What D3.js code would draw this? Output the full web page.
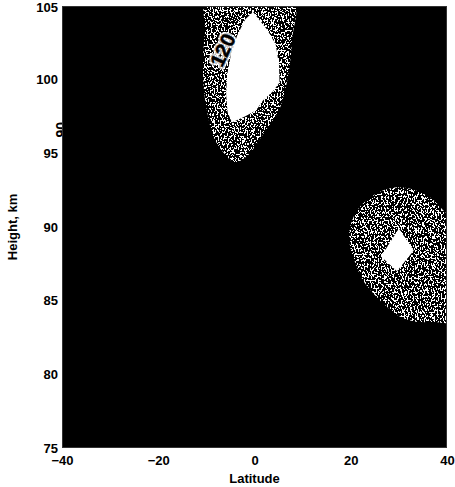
<!DOCTYPE html>
<html>
<head>
<meta charset="utf-8">
<script src="https://cdn.jsdelivr.net/npm/d3@7"></script>
<style>
  html, body { margin: 0; padding: 0; background: #fff; }
  svg { display: block; }
  text { font-family: "Liberation Sans", Arial, sans-serif; font-weight: bold; }
</style>
</head>
<body>
<svg id="chart" width="455" height="487"></svg>
<script>
// Axis extents and tick labels
const latDomain = [-40, 40];
const heightDomain = [75, 105];
const latTicks = [-40, -20, 0, 20, 40];
const heightTicks = [75, 80, 85, 90, 95, 100, 105];

// Contour outlines as [latitude, height] pairs
// Equatorial upper maximum: outer (stippled) level
const equatorOuter = [
  [-9.9, 105.6], [-10.3, 103.4], [-10.7, 101.3], [-10.5, 99.3], [-9.7, 97.6],
  [-8.6, 96.2], [-6.8, 95.2], [-4.1, 94.4], [-2.0, 94.7], [-0.5, 95.2],
  [2.2, 96.5], [4.9, 97.8], [6.3, 99.2], [7.2, 100.7], [7.8, 102.7], [8.0, 105.6]
];
// Equatorial upper maximum: inner (white) level
const equatorInner = [
  [-0.3, 104.6], [2.6, 103.4], [4.4, 102.4], [5.1, 101.0], [5.2, 99.8],
  [3.8, 99.2], [1.8, 98.6], [0.3, 97.9], [-2.0, 97.5], [-4.7, 97.1],
  [-5.6, 97.8], [-5.9, 99.0], [-5.7, 100.3], [-4.9, 101.7], [-3.6, 103.0], [-1.9, 104.1]
];
// Mid-latitude maximum: outer (stippled) level
const midlatOuter = [
  [29.6, 92.7], [33.4, 92.5], [36.5, 92.0], [39.0, 91.2], [41.0, 90.3],
  [41.0, 83.6], [37.5, 83.55], [33.0, 83.6], [29.8, 84.0], [27.1, 84.7],
  [24.4, 85.6], [22.3, 86.5], [20.9, 87.6], [19.8, 88.8], [19.8, 89.9],
  [21.1, 91.0], [23.2, 91.8], [26.1, 92.4]
];
// Mid-latitude maximum: inner (white) level
const midlatInner = [
  [30.0, 89.9], [33.1, 88.4], [29.6, 87.0], [26.3, 88.0]
];

// Contour labels: value, position and rotation
const contourLabels = [
  { text: "120", lat: -6.6, h: 102.0, angle: -65 }
];

const svg = d3.select("#chart");
const margin = { left: 62, right: 8, top: 6, bottom: 39 };
const W = +svg.attr("width"), H = +svg.attr("height");

const x = d3.scaleLinear().domain(latDomain).range([margin.left, W - margin.right]);
const y = d3.scaleLinear().domain(heightDomain).range([H - margin.bottom, margin.top]);

const defs = svg.append("defs");
defs.append("clipPath").attr("id", "plotClip")
  .append("rect")
  .attr("x", x(latDomain[0])).attr("y", y(heightDomain[1]))
  .attr("width", x(latDomain[1]) - x(latDomain[0]))
  .attr("height", y(heightDomain[0]) - y(heightDomain[1]));

// Speckled texture for the intermediate contour band
const f = defs.append("filter").attr("id", "stipple")
  .attr("filterUnits", "userSpaceOnUse")
  .attr("x", 0).attr("y", 0).attr("width", W).attr("height", H);
f.append("feTurbulence")
  .attr("type", "fractalNoise").attr("baseFrequency", "0.7 0.5")
  .attr("numOctaves", 2).attr("seed", 7).attr("result", "noise");
f.append("feColorMatrix").attr("in", "noise").attr("type", "matrix")
  .attr("values", "0 0 0 0 1  0 0 0 0 1  0 0 0 0 1  1 0 0 0 0")
  .attr("result", "alpha");
const ct = f.append("feComponentTransfer").attr("in", "alpha").attr("result", "dots");
ct.append("feFuncA").attr("type", "discrete").attr("tableValues", "0 0 0 0 0 0 0 1 1 1 1 1 1");
f.append("feComposite").attr("in", "dots").attr("in2", "SourceGraphic").attr("operator", "in");

// Partial contour label peeking out at the left edge
svg.append("text")
  .attr("transform", `translate(${x(-40) + 4},${y(96.6)}) rotate(-90)`)
  .attr("text-anchor", "middle")
  .attr("font-size", 14)
  .attr("fill", "#000")
  .text("90");

// Plot background (lowest contour level)
svg.append("rect")
  .attr("x", x(latDomain[0])).attr("y", y(heightDomain[1]))
  .attr("width", x(latDomain[1]) - x(latDomain[0]))
  .attr("height", y(heightDomain[0]) - y(heightDomain[1]))
  .attr("fill", "#000");

const plot = svg.append("g").attr("clip-path", "url(#plotClip)");
const line = d3.line().x(d => x(d[0])).y(d => y(d[1])).curve(d3.curveCatmullRomClosed.alpha(0.5));
const poly = d3.line().x(d => x(d[0])).y(d => y(d[1])).curve(d3.curveLinearClosed);

[equatorOuter, midlatOuter].forEach(c => {
  plot.append("path").attr("d", line(c)).attr("fill", "#fff").attr("filter", "url(#stipple)");
});
plot.append("path").attr("d", poly(equatorInner)).attr("fill", "#fff");
plot.append("path").attr("d", poly(midlatInner)).attr("fill", "#fff");

// Contour value labels
contourLabels.forEach(l => {
  const g = plot.append("g")
    .attr("transform", `translate(${x(l.lat)},${y(l.h)}) rotate(${l.angle})`);
  g.append("text")
    .attr("text-anchor", "middle").attr("dominant-baseline", "central")
    .attr("font-size", 20)
    .attr("fill", "#fff").attr("stroke", "#fff").attr("stroke-width", 5)
    .attr("stroke-linejoin", "round").attr("opacity", 0.8)
    .text(l.text);
  g.append("text")
    .attr("text-anchor", "middle").attr("dominant-baseline", "central")
    .attr("font-size", 20)
    .attr("fill", "#000").attr("stroke", "#000").attr("stroke-width", 0.5)
    .text(l.text);
});

// Frame
svg.append("rect")
  .attr("x", x(latDomain[0]) + 0.5).attr("y", y(heightDomain[1]) + 0.5)
  .attr("width", x(latDomain[1]) - x(latDomain[0]) - 1)
  .attr("height", y(heightDomain[0]) - y(heightDomain[1]) - 1)
  .attr("fill", "none").attr("stroke", "#333").attr("stroke-width", 1);

// Axes
const xAxis = svg.append("g")
  .attr("transform", `translate(0,${y(heightDomain[0])})`)
  .call(d3.axisBottom(x).tickValues(latTicks).tickSize(0).tickPadding(8).tickFormat(d3.format("d")));
const yAxis = svg.append("g")
  .attr("transform", `translate(${x(latDomain[0])},0)`)
  .call(d3.axisLeft(y).tickValues(heightTicks).tickSize(0).tickPadding(4).tickFormat(d3.format("d")));
[xAxis, yAxis].forEach(a => {
  a.select(".domain").remove();
  a.selectAll("text").attr("font-size", 13).attr("font-family", "Liberation Sans, Arial, sans-serif")
    .attr("font-weight", "bold").attr("fill", "#000");
});
xAxis.selectAll("text").attr("dy", "0.71em");
// keep the top tick label inside the page
yAxis.selectAll(".tick").filter(d => d === heightDomain[1]).select("text").attr("dy", "0.42em");

// Axis titles
svg.append("text")
  .attr("x", x(0)).attr("y", H - 4)
  .attr("text-anchor", "middle").attr("font-size", 13)
  .text("Latitude");
svg.append("text")
  .attr("transform", `translate(17,${y(90)}) rotate(-90)`)
  .attr("text-anchor", "middle").attr("font-size", 13)
  .text("Height, km");
</script>
</body>
</html>
